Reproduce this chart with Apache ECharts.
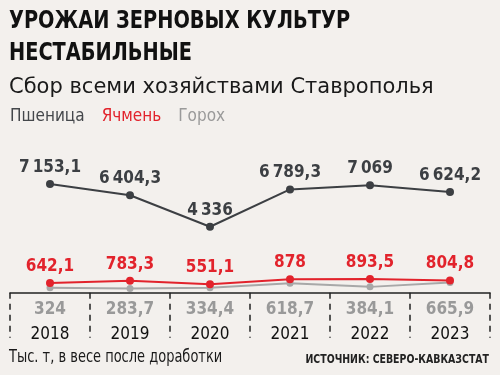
<!DOCTYPE html>
<html>
<head>
<meta charset="utf-8">
<script src="https://cdn.jsdelivr.net/npm/echarts@6/dist/echarts.min.js"></script>
<style>
html, body { margin: 0; padding: 0; background: #f3f0ed; }
#main { width: 500px; height: 375px; }
</style>
</head>
<body>
<div id="main"></div>
<script>
var years = ['2018', '2019', '2020', '2021', '2022', '2023'];
var wheat = [7153.1, 6404.3, 4336, 6789.3, 7069, 6624.2];
var barley = [642.1, 783.3, 551.1, 878, 893.5, 804.8];
var peas = [324, 283.7, 334.4, 618.7, 384.1, 665.9];

var condensed = '"DejaVu Sans Condensed", "DejaVu Sans", sans-serif';

// 7153.1 -> "7 153,1"
function fmt(v) {
	var parts = String(v).split('.');
	var int = parts[0].replace(/\B(?=(\d{3})+(?!\d))/g, '\u2009');
	return parts.length > 1 ? int + ',' + parts[1] : int;
}

function txt(text, x, y, font, fill, sx, align) {
	return {
		type: 'text',
		x: x,
		y: y,
		scaleX: sx,
		style: {
			text: text,
			font: font,
			fill: fill,
			textAlign: align || 'left',
			textVerticalAlign: 'middle'
		}
	};
}

var option = {
	backgroundColor: '#f3f0ed',
	animation: false,
	graphic: [
		txt('УРОЖАИ ЗЕРНОВЫХ КУЛЬТУР', 9, 21, 'bold 25px ' + condensed, '#111', 0.86),
		txt('НЕСТАБИЛЬНЫЕ', 9, 53, 'bold 25px ' + condensed, '#111', 0.86),
		txt('Сбор всеми хозяйствами Ставрополья', 9, 88, '21px "DejaVu Sans", sans-serif', '#1a1a1a', 1),
		txt('Тыс. т, в весе после доработки', 9, 358, '17px ' + condensed, '#1a1a1a', 0.85),
		txt('ИСТОЧНИК: СЕВЕРО-КАВКАЗСТАТ', 489, 360, 'bold 12px ' + condensed, '#222', 0.87, 'right')
	],
	legend: {
		left: 5,
		top: 108,
		padding: 0,
		icon: 'rect',
		itemWidth: 0,
		itemHeight: 0,
		itemGap: 12,
		selectedMode: false,
		textStyle: { fontFamily: condensed, fontSize: 17 },
		data: [
			{ name: 'Пшеница', textStyle: { color: '#44474b' } },
			{ name: 'Ячмень', textStyle: { color: '#e2232c' } },
			{ name: 'Горох', textStyle: { color: '#9a9a9a' } }
		]
	},
	grid: { left: 10, right: 10, top: 171, bottom: 80 },
	xAxis: {
		type: 'category',
		data: years,
		axisLine: { lineStyle: { color: '#222', width: 1.5 } },
		axisTick: {
			show: true,
			interval: 0,
			length: 45,
			lineStyle: { color: '#222', width: 1.5, type: [6, 5] }
		},
		axisLabel: {
			interval: 0,
			margin: 2,
			formatter: function (value, idx) {
				return '{p|' + fmt(peas[idx]) + '}\n{y|' + value + '}';
			},
			rich: {
				p: { fontFamily: condensed, fontWeight: 'bold', fontSize: 17, color: '#999', lineHeight: 25 },
				y: { fontFamily: condensed, fontSize: 17, color: '#111', lineHeight: 25 }
			}
		}
	},
	yAxis: {
		type: 'value',
		min: -150,
		max: 8000,
		show: false,
		splitLine: { show: false }
	},
	series: [{
		name: 'Горох',
		type: 'line',
		data: peas,
		symbol: 'circle',
		symbolSize: 7,
		color: '#a8a8a8',
		lineStyle: { width: 2, color: '#a8a8a8' }
	}, {
		name: 'Ячмень',
		type: 'line',
		data: barley,
		symbol: 'circle',
		symbolSize: 8,
		color: '#e2232c',
		lineStyle: { width: 2, color: '#e2232c' },
		label: {
			show: true,
			position: 'top',
			distance: 4,
			formatter: function (p) { return fmt(p.value); },
			fontFamily: condensed,
			fontWeight: 'bold',
			fontSize: 17,
			color: '#e2232c'
		}
	}, {
		name: 'Пшеница',
		type: 'line',
		data: wheat,
		symbol: 'circle',
		symbolSize: 8,
		color: '#3c3f43',
		lineStyle: { width: 2, color: '#3c3f43' },
		label: {
			show: true,
			position: 'top',
			distance: 4,
			formatter: function (p) { return fmt(p.value); },
			fontFamily: condensed,
			fontWeight: 'bold',
			fontSize: 17,
			color: '#3c3f43'
		}
	}]
};

var myChart = echarts.init(document.getElementById('main'));
myChart.setOption(option);
</script>
</body>
</html>
